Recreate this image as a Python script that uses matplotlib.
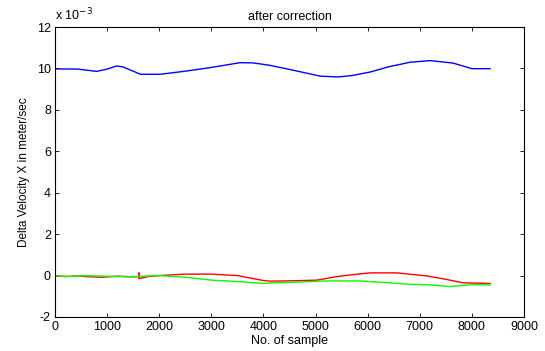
import matplotlib
matplotlib.use("Agg")
import matplotlib.pyplot as plt
from matplotlib.ticker import FuncFormatter

plt.rcParams['font.family'] = ['Liberation Sans', 'DejaVu Sans']

# Delta velocity samples (values in units of 1e-3 m/s)
blue_x = [0, 440, 800, 1000, 1180, 1300, 1640, 2020, 2500, 3000, 3550, 3800, 4130, 4600,
          5090, 5430, 5700, 6050, 6400, 6810, 7200, 7640, 8000, 8350]
blue_y = [9.98, 9.97, 9.86, 9.97, 10.12, 10.08, 9.72, 9.72, 9.87, 10.05, 10.28, 10.27, 10.15, 9.90,
          9.63, 9.59, 9.66, 9.83, 10.08, 10.30, 10.38, 10.26, 9.99, 9.99]

red_x = [0, 200, 400, 600, 900, 1200, 1500, 1610, 1610, 1610, 1800, 2000, 2500, 3000, 3500, 4000, 4130,
         4600, 5030, 5410, 5700, 6050, 6560, 7140, 7500, 7830, 8350]
red_y = [0.0, -0.05, -0.02, -0.05, -0.08, -0.03, -0.06, -0.05, 0.12, -0.15, -0.04, 0.0, 0.07, 0.07, 0.0,
         -0.24, -0.27, -0.25, -0.22, -0.05, 0.04, 0.13, 0.13, -0.02, -0.18, -0.35, -0.38]

green_x = [0, 300, 600, 1000, 1400, 1700, 2000, 2500, 3000, 3500, 4000, 4130, 4600, 5220,
           5850, 6300, 6810, 7200, 7580, 8020, 8350]
green_y = [-0.02, -0.04, -0.01, -0.03, -0.06, -0.03, 0.0, -0.08, -0.22, -0.29, -0.38, -0.36, -0.32, -0.26,
           -0.26, -0.33, -0.42, -0.45, -0.53, -0.43, -0.46]

scale = 1e-3

fig = plt.figure(figsize=(5.45, 3.51), dpi=100)
ax = fig.add_axes([0.101, 0.0969, 0.8605, 0.826])

ax.plot(blue_x, [v * scale for v in blue_y], color='#0000ff', lw=1.0)
ax.plot(red_x, [v * scale for v in red_y], color='#ff0000', lw=1.0)
ax.plot(green_x, [v * scale for v in green_y], color='#00ff00', lw=1.0)

ax.set_xlim(0, 9000)
ax.set_ylim(-2e-3, 12e-3)
ax.set_xticks(range(0, 9001, 1000))
ax.set_yticks([v * scale for v in range(-2, 13, 2)])
ax.yaxis.set_major_formatter(FuncFormatter(lambda v, p: f"{round(v / scale):d}"))

ax.tick_params(direction='in', top=True, right=True, labelsize=9, length=3, width=0.6, pad=3)
for s in ax.spines.values():
    s.set_linewidth(0.8)

ax.set_title("after correction", fontsize=9, pad=5)
ax.set_xlabel("No. of sample", fontsize=9, labelpad=1)
ax.set_ylabel("Delta Velocity X in meter/sec", fontsize=8.5, labelpad=5)
ax.text(0.0, 1.012, r"x 10$^{-3}$", transform=ax.transAxes, fontsize=9, ha='left', va='bottom')

fig.savefig("out.png", dpi=100)
